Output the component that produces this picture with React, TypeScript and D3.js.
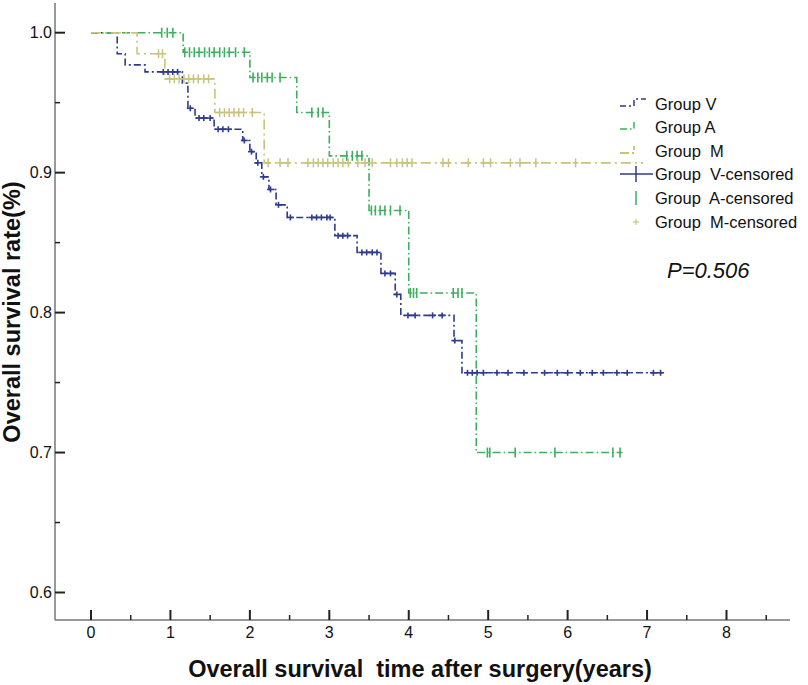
import React from 'react';
import * as d3 from 'd3';

// ---- Data ----
const xTickValues = [0, 1, 2, 3, 4, 5, 6, 7, 8];
const xMinorValues = [0.5, 1.5, 2.5, 3.5, 4.5, 5.5, 6.5, 7.5, 8.5];
const yTickValues = [0.6, 0.7, 0.8, 0.9, 1.0];
const yMinorValues = [0.65, 0.75, 0.85, 0.95];

// Group V
const vEventTimes = [0.33, 0.43, 0.68, 1.15, 1.22, 1.31, 1.55, 1.91, 2.0, 2.08, 2.15, 2.24, 2.33, 2.47, 3.07, 3.35, 3.65, 3.83, 3.9, 4.57, 4.67];
const vSurvival = [0.985, 0.977, 0.972, 0.964, 0.946, 0.939, 0.931, 0.923, 0.915, 0.907, 0.897, 0.888, 0.877, 0.868, 0.855, 0.843, 0.828, 0.813, 0.798, 0.78, 0.757];
const vEndTime = 7.19;
const vCensorTimes = [0.91, 0.97, 1.03, 1.09, 1.25, 1.36, 1.42, 1.5, 1.6, 1.66, 1.73, 1.93, 2.02, 2.1, 2.17, 2.26, 2.36, 2.51, 2.78, 2.84, 2.9, 2.97, 3.01, 3.11, 3.17, 3.23, 3.41, 3.47, 3.54, 3.6, 3.7, 3.77, 3.85, 3.99, 4.08, 4.3, 4.42, 4.58, 4.74, 4.8, 4.86, 4.94, 5.11, 5.25, 5.45, 5.71, 5.87, 6.0, 6.16, 6.31, 6.45, 6.62, 6.75, 7.08, 7.17];

// Group A
const aEventTimes = [1.16, 2.0, 2.59, 3.0, 3.5, 4.0, 4.85];
const aSurvival = [0.986, 0.968, 0.943, 0.912, 0.873, 0.814, 0.7];
const aEndTime = 6.69;
const aCensorTimes = [0.89, 0.96, 1.03, 1.18, 1.24, 1.3, 1.36, 1.43, 1.49, 1.55, 1.62, 1.68, 1.74, 1.82, 1.93, 2.04, 2.1, 2.15, 2.22, 2.28, 2.38, 2.78, 2.86, 2.92, 3.22, 3.29, 3.35, 3.41, 3.53, 3.58, 3.64, 3.7, 3.77, 3.89, 4.02, 4.06, 4.1, 4.56, 4.62, 4.67, 4.99, 5.02, 5.34, 5.84, 6.57, 6.66];

// Group M
const mEventTimes = [0.58, 0.93, 1.56, 2.18];
const mSurvival = [0.985, 0.967, 0.943, 0.907];
const mEndTime = 6.95;
const mCensorTimes = [0.85, 0.9, 0.99, 1.05, 1.11, 1.17, 1.23, 1.29, 1.35, 1.42, 1.48, 1.62, 1.68, 1.74, 1.8, 1.86, 1.92, 2.03, 2.23, 2.38, 2.48, 2.73, 2.8, 2.86, 2.92, 2.98, 3.05, 3.11, 3.17, 3.24, 3.36, 3.45, 3.54, 3.77, 3.85, 3.92, 3.98, 4.04, 4.43, 4.5, 4.75, 4.94, 5.03, 5.28, 5.4, 5.6, 6.1];

const legendLabels = ['Group V', 'Group A', 'Group  M', 'Group  V-censored', 'Group  A-censored', 'Group  M-censored'];
const pValueLabel = 'P=0.506';
const xTitle = 'Overall survival  time after surgery(years)';
const yTitle = 'Overall survival rate(%)';

const COL_V = '#2f3b8c';
const COL_A = '#3fae5e';
const COL_M = '#c9c37f';

function stepPoints(times: number[], surv: number[], end: number): [number, number][] {
  const pts: [number, number][] = [[0, 1]];
  times.forEach((t, i) => pts.push([t, surv[i]]));
  pts.push([end, surv[surv.length - 1]]);
  return pts;
}
function survAt(times: number[], surv: number[], t: number): number {
  let s = 1;
  times.forEach((tt, i) => { if (tt <= t) s = surv[i]; });
  return s;
}

export default function App() {
  const x = d3.scaleLinear().domain([0, 8]).range([91, 726.5]);
  const y = d3.scaleLinear().domain([0.6, 1.0]).range([592.5, 32.7]);
  const line = d3.line<[number, number]>().x(d => x(d[0])).y(d => y(d[1])).curve(d3.curveStepAfter);

  const axisX0 = 55;
  const axisY0 = 620;
  const axisTop = 3;
  const axisRight = 790;

  const groups = [
    { key: 'V', times: vEventTimes, surv: vSurvival, end: vEndTime, color: COL_V, dash: '7,3,2,3' },
    { key: 'A', times: aEventTimes, surv: aSurvival, end: aEndTime, color: COL_A, dash: '8,3,1.5,3' },
    { key: 'M', times: mEventTimes, surv: mSurvival, end: mEndTime, color: COL_M, dash: '10,4,2,4' },
  ];

  const legendY = [104, 127, 151, 174, 198, 222];
  const lx = 620;

  return (
    <div style={{ position: 'absolute', left: 0, top: 0 }}>
      <svg width={808} height={685} style={{ display: 'block', background: '#fff' }} fontFamily="'Liberation Sans', Arial, sans-serif">
        <rect x={0} y={0} width={808} height={685} fill="#fff" />
        {/* axes */}
        <line x1={axisX0} x2={axisX0} y1={axisTop} y2={axisY0} stroke="#777" strokeWidth={1.5} />
        <line x1={axisX0} x2={axisRight} y1={axisY0} y2={axisY0} stroke="#777" strokeWidth={1.5} />
        {yTickValues.map(v => (
          <g key={'yt' + v}>
            <line x1={axisX0} x2={axisX0 + 10} y1={y(v)} y2={y(v)} stroke="#222" strokeWidth={2} />
            <text x={52} y={y(v)} dy="0.35em" textAnchor="end" fontSize={16} fill="#111">{v.toFixed(1)}</text>
          </g>
        ))}
        {yMinorValues.map(v => (
          <line key={'ym' + v} x1={axisX0} x2={axisX0 + 5} y1={y(v)} y2={y(v)} stroke="#222" strokeWidth={1.5} />
        ))}
        {xTickValues.map(v => (
          <g key={'xt' + v}>
            <line x1={x(v)} x2={x(v)} y1={axisY0} y2={axisY0 - 10} stroke="#222" strokeWidth={2} />
            <text x={x(v)} y={638} textAnchor="middle" fontSize={16} fill="#111">{v}</text>
          </g>
        ))}
        {xMinorValues.map(v => (
          <line key={'xm' + v} x1={x(v)} x2={x(v)} y1={axisY0} y2={axisY0 - 5} stroke="#222" strokeWidth={1.5} />
        ))}
        {/* titles */}
        <text x={420} y={677} textAnchor="middle" fontSize={23.5} fontWeight="bold" fill="#111" style={{ whiteSpace: 'pre' }}>{xTitle}</text>
        <text transform="translate(20,312) rotate(-90)" textAnchor="middle" fontSize={23.5} fontWeight="bold" fill="#111">{yTitle}</text>

        {/* curves */}
        {groups.map(g => (
          <path key={'l' + g.key} d={line(stepPoints(g.times, g.surv, g.end)) || ''} fill="none" stroke={g.color} strokeWidth={1.6} strokeDasharray={g.dash} />
        ))}
        {/* censor marks */}
        {vCensorTimes.map((t, i) => {
          const cx = x(t), cy = y(survAt(vEventTimes, vSurvival, t));
          return (
            <g key={'vc' + i} stroke={COL_V} strokeWidth={1.6}>
              <line x1={cx - 3.5} x2={cx + 3.5} y1={cy} y2={cy} />
              <line x1={cx} x2={cx} y1={cy - 3} y2={cy + 3} />
            </g>
          );
        })}
        {aCensorTimes.map((t, i) => {
          const cx = x(t), cy = y(survAt(aEventTimes, aSurvival, t));
          return <line key={'ac' + i} x1={cx} x2={cx} y1={cy - 5} y2={cy + 5} stroke={COL_A} strokeWidth={1.6} />;
        })}
        {mCensorTimes.map((t, i) => {
          const cx = x(t), cy = y(survAt(mEventTimes, mSurvival, t));
          return (
            <g key={'mc' + i} stroke={COL_M} strokeWidth={1.5}>
              <line x1={cx - 3} x2={cx + 3} y1={cy} y2={cy} />
              <line x1={cx} x2={cx} y1={cy - 4.5} y2={cy + 4.5} />
            </g>
          );
        })}

        {/* legend */}
        <g>
          <path d={`M${lx},${legendY[0] + 2}H${lx + 14}V${legendY[0] - 5}H${lx + 26}`} fill="none" stroke={COL_V} strokeWidth={1.5} strokeDasharray="6,3,2,3" />
          <path d={`M${lx},${legendY[1] + 2}H${lx + 14}V${legendY[1] - 5}`} fill="none" stroke={COL_A} strokeWidth={1.5} strokeDasharray="7,3,1.5,3" />
          <path d={`M${lx},${legendY[2] + 2}H${lx + 14}V${legendY[2] - 5}`} fill="none" stroke={COL_M} strokeWidth={1.8} strokeDasharray="9,3,2,3" />
          <line x1={lx} x2={lx + 33} y1={legendY[3]} y2={legendY[3]} stroke={COL_V} strokeWidth={1.5} />
          <line x1={lx + 16} x2={lx + 16} y1={legendY[3] - 8} y2={legendY[3] + 8} stroke={COL_V} strokeWidth={1.5} />
          <line x1={lx + 16} x2={lx + 16} y1={legendY[4] - 7} y2={legendY[4] + 7} stroke={COL_A} strokeWidth={1.5} />
          <line x1={lx + 13} x2={lx + 19} y1={legendY[5]} y2={legendY[5]} stroke={COL_M} strokeWidth={1.2} />
          <line x1={lx + 16} x2={lx + 16} y1={legendY[5] - 3} y2={legendY[5] + 3} stroke={COL_M} strokeWidth={1.2} />
          {legendLabels.map((lab, i) => (
            <text key={'lg' + i} x={655} y={legendY[i]} dy="0.35em" fontSize={16.5} fill="#111" style={{ whiteSpace: 'pre' }}>{lab}</text>
          ))}
        </g>
        <text x={667} y={270} dy="0.35em" fontSize={22} fontStyle="italic" fill="#111">{pValueLabel}</text>
      </svg>
    </div>
  );
}
